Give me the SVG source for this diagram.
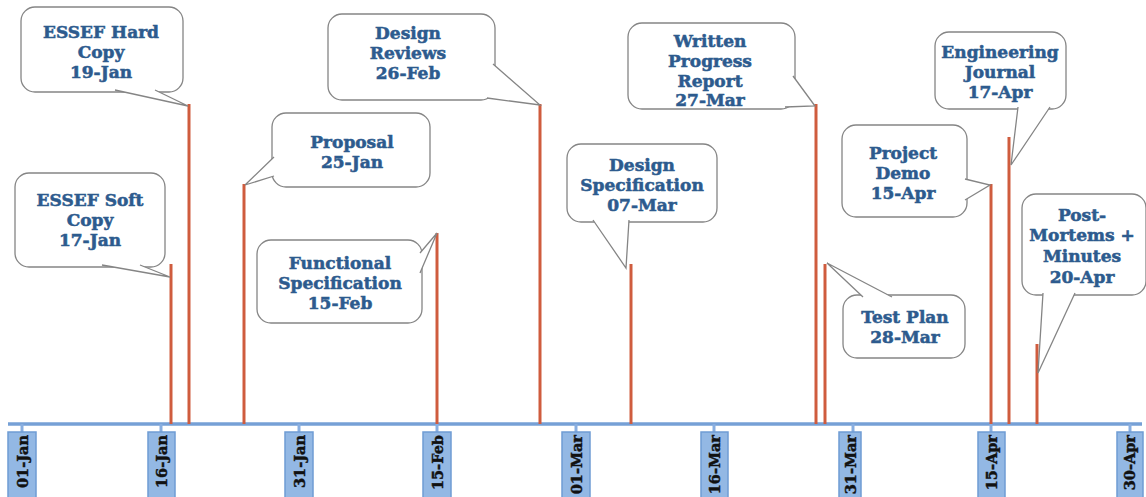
<svg xmlns="http://www.w3.org/2000/svg" width="1146" height="497" viewBox="0 0 1146 497">
<style>
.box{fill:#fff;stroke:#858585;stroke-width:1.3}
.tail{fill:#fff;stroke:#858585;stroke-width:1.3;stroke-linejoin:miter}
.t{font-family:"DejaVu Serif",serif;font-weight:bold;font-size:17px;fill:#2d5b8e;stroke:#2d5b8e;stroke-width:0.55;text-anchor:middle}
.stem{stroke:#cf5c3e;stroke-width:3}
.axis{stroke:#76a0d6;stroke-width:3.5}
.tick{stroke:#88aee0;stroke-width:3}
.dbox{fill:#93b8e4;stroke:#6f9cd4;stroke-width:1.5}
.d{font-family:"DejaVu Serif",serif;font-weight:bold;font-size:14.5px;fill:#111;stroke:#111;stroke-width:0.45;text-anchor:end}
</style>
<rect width="1146" height="497" fill="#fff"/>
<g id="axis">
<line class="axis" x1="8" y1="424" x2="1142" y2="424"/>
<g id="ticks">
<line class="tick" x1="22" y1="424" x2="22" y2="433"/>
<line class="tick" x1="161" y1="424" x2="161" y2="433"/>
<line class="tick" x1="299" y1="424" x2="299" y2="433"/>
<line class="tick" x1="437" y1="424" x2="437" y2="433"/>
<line class="tick" x1="576" y1="424" x2="576" y2="433"/>
<line class="tick" x1="714" y1="424" x2="714" y2="433"/>
<line class="tick" x1="853" y1="424" x2="853" y2="433"/>
<line class="tick" x1="991" y1="424" x2="991" y2="433"/>
<line class="tick" x1="1130" y1="424" x2="1130" y2="433"/>
</g>
<g id="date-labels">
<rect class="dbox" x="8" y="432" width="28" height="70"/>
<text class="d" transform="translate(27.5,435) rotate(-90)">01-Jan</text>
<rect class="dbox" x="148" y="432" width="27" height="70"/>
<text class="d" transform="translate(166.5,435) rotate(-90)">16-Jan</text>
<rect class="dbox" x="285" y="432" width="28" height="70"/>
<text class="d" transform="translate(304.5,435) rotate(-90)">31-Jan</text>
<rect class="dbox" x="423" y="432" width="28" height="70"/>
<text class="d" transform="translate(442.5,435) rotate(-90)">15-Feb</text>
<rect class="dbox" x="562" y="432" width="28" height="70"/>
<text class="d" transform="translate(581.5,435) rotate(-90)">01-Mar</text>
<rect class="dbox" x="701" y="432" width="27" height="70"/>
<text class="d" transform="translate(719.5,435) rotate(-90)">16-Mar</text>
<rect class="dbox" x="839" y="432" width="22" height="70"/>
<text class="d" transform="translate(856,435) rotate(-90)">31-Mar</text>
<rect class="dbox" x="978" y="432" width="27" height="70"/>
<text class="d" transform="translate(996.5,435) rotate(-90)">15-Apr</text>
<rect class="dbox" x="1117" y="432" width="26" height="70"/>
<text class="d" transform="translate(1135,435) rotate(-90)">30-Apr</text>
</g>
</g>
<g id="connectors">
<line class="stem" x1="171" y1="264" x2="171" y2="424"/>
<line class="stem" x1="189" y1="104" x2="189" y2="424"/>
<line class="stem" x1="244" y1="184" x2="244" y2="424"/>
<line class="stem" x1="437" y1="233" x2="437" y2="424"/>
<line class="stem" x1="540" y1="104" x2="540" y2="424"/>
<line class="stem" x1="631" y1="264" x2="631" y2="424"/>
<line class="stem" x1="816" y1="104" x2="816" y2="424"/>
<line class="stem" x1="825" y1="264" x2="825" y2="424"/>
<line class="stem" x1="991" y1="184" x2="991" y2="424"/>
<line class="stem" x1="1009" y1="137" x2="1009" y2="424"/>
<line class="stem" x1="1037" y1="344" x2="1037" y2="424"/>
</g>
<g id="n-essef-hard">
<rect class="box" x="21" y="7" width="162" height="85" rx="14"/>
<path class="tail" d="M115,90 L188,106 L155,90"/>
<text class="t" x="101" y="38">ESSEF Hard</text>
<text class="t" x="101" y="58">Copy</text>
<text class="t" x="101" y="78">19-Jan</text>
</g>
<g id="n-essef-soft">
<rect class="box" x="15" y="173" width="150" height="94" rx="14"/>
<path class="tail" d="M102,265 L170,277 L140,265"/>
<text class="t" x="90" y="206">ESSEF Soft</text>
<text class="t" x="90" y="226">Copy</text>
<text class="t" x="90" y="246">17-Jan</text>
</g>
<g id="n-proposal">
<rect class="box" x="272" y="113" width="158" height="74" rx="14"/>
<path class="tail" d="M274,157 L245,185 L274,176"/>
<text class="t" x="352" y="148">Proposal</text>
<text class="t" x="352" y="168">25-Jan</text>
</g>
<g id="n-functional">
<rect class="box" x="257" y="240" width="165" height="83" rx="14"/>
<path class="tail" d="M420,253 L437,233 L420,273"/>
<text class="t" x="340" y="269">Functional</text>
<text class="t" x="340" y="289">Specification</text>
<text class="t" x="340" y="309">15-Feb</text>
</g>
<g id="n-design-reviews">
<rect class="box" x="328" y="14" width="167" height="86" rx="14"/>
<path class="tail" d="M493,64 L540,105 L487,98"/>
<text class="t" x="408" y="39">Design</text>
<text class="t" x="408" y="59">Reviews</text>
<text class="t" x="408" y="79">26-Feb</text>
</g>
<g id="n-design-spec">
<rect class="box" x="567" y="144" width="150" height="78" rx="14"/>
<path class="tail" d="M593,220 L626,268 L629,220"/>
<text class="t" x="642" y="171">Design</text>
<text class="t" x="642" y="191">Specification</text>
<text class="t" x="642" y="211">07-Mar</text>
</g>
<g id="n-written">
<rect class="box" x="628" y="23" width="167" height="86" rx="14"/>
<path class="tail" d="M793,76 L815,106 L785,107"/>
<text class="t" x="710" y="47">Written</text>
<text class="t" x="710" y="67">Progress</text>
<text class="t" x="710" y="87">Report</text>
<text class="t" x="710" y="106">27-Mar</text>
</g>
<g id="n-test-plan">
<rect class="box" x="843" y="295" width="122" height="63" rx="14"/>
<path class="tail" d="M863,297 L827,263 L892,297"/>
<text class="t" x="905" y="323">Test Plan</text>
<text class="t" x="905" y="343">28-Mar</text>
</g>
<g id="n-project-demo">
<rect class="box" x="842" y="125" width="125" height="92" rx="14"/>
<path class="tail" d="M965,179 L990,185 L965,200"/>
<text class="t" x="903" y="159">Project</text>
<text class="t" x="903" y="179">Demo</text>
<text class="t" x="903" y="199">15-Apr</text>
</g>
<g id="n-eng-journal">
<rect class="box" x="935" y="32" width="131" height="77" rx="14"/>
<path class="tail" d="M1018,107 L1011,165 L1050,107"/>
<text class="t" x="1000" y="58">Engineering</text>
<text class="t" x="1000" y="78">Journal</text>
<text class="t" x="1000" y="98">17-Apr</text>
</g>
<g id="n-post-mortems">
<rect class="box" x="1022" y="194" width="124" height="101" rx="14"/>
<path class="tail" d="M1043,293 L1038,373 L1075,293"/>
<text class="t" x="1082" y="221">Post-</text>
<text class="t" x="1082" y="241">Mortems +</text>
<text class="t" x="1082" y="262">Minutes</text>
<text class="t" x="1082" y="283">20-Apr</text>
</g>
</svg>
